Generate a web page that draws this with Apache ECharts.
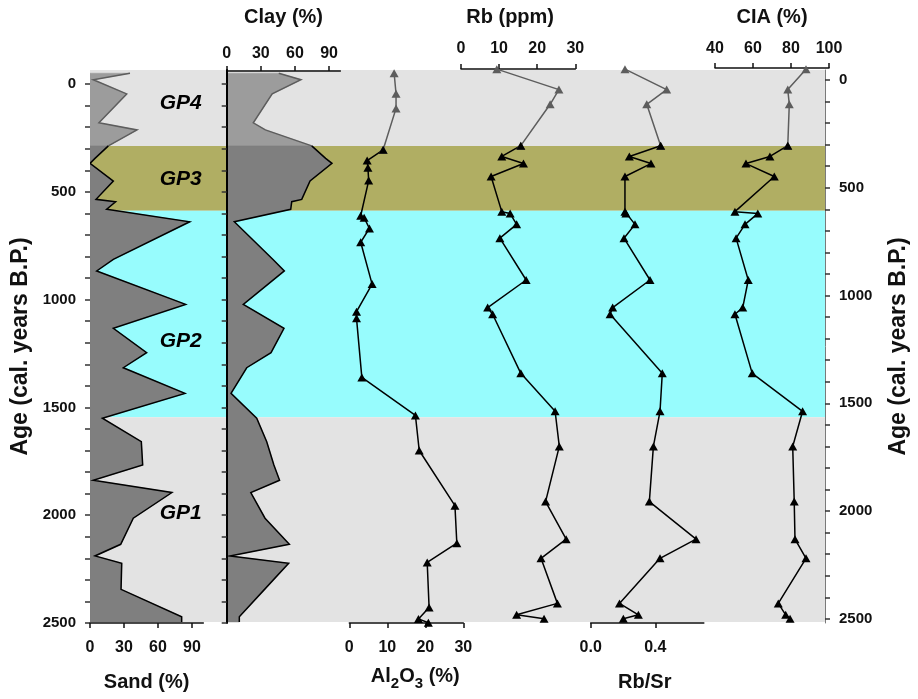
<!DOCTYPE html>
<html>
<head>
<meta charset="utf-8">
<script src="https://cdn.jsdelivr.net/npm/echarts@6/dist/echarts.min.js"></script>
<style>
  html, body { margin: 0; padding: 0; background: #ffffff; }
  #chart { width: 918px; height: 699px; }
</style>
</head>
<body>
<div id="chart"></div>
<script>
// ---- Grain-size profile (age in cal. years B.P.) ----
const textureAge = [-50, -20, 46, 180, 213, 287, 345, 368, 450, 535, 546, 581, 639, 813, 867, 1022,
  1133, 1246, 1316, 1435, 1550, 1659, 1767, 1838, 1895, 2014, 2135, 2189, 2223, 2344, 2471, 2495];
const sandPct = [35.3, 2.9, 32.4, 7.9, 41.5, 16.2, 4.4, 0, 20.6, 5.3, 22.6, 14.7, 88, 20.6, 5.9, 84.4,
  20.6, 50, 29.4, 83.8, 10.9, 45.3, 46.5, 2.9, 72.3, 38.2, 27.1, 4.4, 28, 27.4, 80.9, 80.9];
const clayPct = [45.8, 65.3, 40, 23.4, 34, 74.8, 87, 92.6, 73.3, 66, 57.2, 56.3, 6.7, 40.5, 50.7, 14.6,
  50.4, 39, 17.6, 3.8, 26.4, 35.2, 41.5, 46.5, 21.2, 33.7, 55.1, 2.9, 54.5, 33.3, 11.1, 11.1];

// ---- Geochemical samples ----
const sampleAge = [-50, 45, 113, 305, 355, 388, 448, 611, 620, 670, 734, 928, 1056, 1087, 1361, 1537,
  1700, 1956, 2130, 2219, 2428, 2481, 2499];
const al2o3Pct = [11.8, 12.3, 12.3, 8.9, 4.7, 4.9, 5.1, 3.0, 3.9, 5.3, 3.0, 6.0, 1.9, 1.9, 3.3, 17.4,
  18.4, 27.8, 28.3, 20.5, 21.0, 18.2, 20.8];
const rbPpm = [9.4, 25.7, 23.4, 15.7, 10.7, 16.4, 7.9, 10.7, 12.9, 14.6, 10.2, 17.1, 7.0, 8.3, 15.7, 24.7,
  25.8, 22.2, 27.6, 21.0, 25.3, 14.6, 21.8];
const rbSr = [0.212, 0.470, 0.347, 0.433, 0.239, 0.373, 0.212, 0.212, 0.218, 0.274, 0.206, 0.367, 0.136,
  0.120, 0.443, 0.429, 0.388, 0.363, 0.652, 0.429, 0.178, 0.295, 0.202];
const ciaPct = [87.9, 78.3, 79.1, 78.3, 68.9, 56.3, 71.2, 50.5, 62.5, 55.8, 51.1, 57.5, 54.6, 50.5, 59.6,
  86.1, 80.9, 81.7, 82.1, 87.9, 73.3, 77.2, 79.5];

// ---- Zones ----
const zoneEdges = [-65, 288, 588, 1546, 2495];
const zoneNames = ['GP4', 'GP3', 'GP2', 'GP1'];
const zoneLabelAge = [88, 441, 1195, 1990];

// ---- Tick values ----
const ageLabels = [0, 500, 1000, 1500, 2000, 2500];
const ageMinorTicks = [];
for (let a = 0; a <= 2500; a += 100) ageMinorTicks.push(a);
const pctTicks = [0, 30, 60, 90];
const thirtyTicks = [0, 10, 20, 30];
const ratioTicks = [0, 0.4];
const ciaTicks = [40, 60, 80, 100];

// index of the last GP4 sample in each record (lighter drawing above it)
const textureSplit = 5;
const sampleSplit = 3;

const FONT = '"Liberation Sans", Arial, Helvetica, sans-serif';
const INK = '#111111';
const zoneColors = ['#e3e3e3', '#b0ae63', '#97fcfd', '#e3e3e3'];

const tickLabelStyle = { fontFamily: FONT, fontSize: 16, fontWeight: 'bold', color: INK };
const titleStyle = { fontFamily: FONT, fontSize: 20, fontWeight: 'bold', color: INK };
const plainNumber = function (v) { return String(v); };

const PLOT_TOP = 70, PLOT_H = 553;
function grid(left, width) {
  return { left: left, width: width, top: PLOT_TOP, height: PLOT_H, containLabel: false };
}

function panelXAxis(gridIndex, min, max, position, ticks, name, extra) {
  return Object.assign({
    type: 'value', gridIndex: gridIndex, min: min, max: max, position: position,
    name: name, nameLocation: 'middle', nameTextStyle: titleStyle,
    axisLine: { show: true, onZero: false, lineStyle: { color: INK, width: 1.5 } },
    axisTick: { show: true, inside: false, length: 5, customValues: ticks, lineStyle: { color: INK, width: 1.5 } },
    axisLabel: Object.assign({ show: true, customValues: ticks }, tickLabelStyle),
    splitLine: { show: false },
    z: 5
  }, extra || {});
}

function hiddenYAxis(gridIndex, min, max) {
  return { type: 'value', gridIndex: gridIndex, min: min, max: max, inverse: true, show: false };
}

// left (texture, Al2O3) and right (Rb, Rb/Sr, CIA) age scales
const LEFT_MIN = -65, LEFT_MAX = 2500;
const RIGHT_MIN = -46, RIGHT_MAX = 2519;

const grids = [
  grid(90, 739),      // zone background
  grid(90, 113.3),    // sand
  grid(226.7, 113.7), // clay
  grid(349.3, 114),   // Al2O3
  grid(461, 114.3),   // Rb
  grid(590.7, 113.1), // Rb/Sr
  grid(715, 114)      // CIA
];

const xAxes = [
  { type: 'value', gridIndex: 0, min: 0, max: 1, show: false },
  panelXAxis(1, 0, 100, 'bottom', pctTicks, 'Sand (%)', {
    nameGap: 49, axisLabel: Object.assign({ customValues: pctTicks, margin: 17 }, tickLabelStyle)
  }),
  panelXAxis(2, 0, 100, 'top', pctTicks, 'Clay (%)', {
    offset: -1, nameGap: 44, axisLabel: Object.assign({ customValues: pctTicks, margin: 9 }, tickLabelStyle)
  }),
  panelXAxis(3, 0, 30, 'bottom', thirtyTicks, '{a|Al}{s|2}{a|O}{s|3}{a| (%)}', {
    nameGap: 43,
    nameTextStyle: {
      padding: [0, 0, 0, 18],
      rich: {
        a: { fontFamily: FONT, fontSize: 20, fontWeight: 'bold', color: INK, lineHeight: 22, verticalAlign: 'top' },
        s: { fontFamily: FONT, fontSize: 15, fontWeight: 'bold', color: INK, lineHeight: 15, padding: [10, 0, 0, 0], verticalAlign: 'top' }
      }
    },
    axisLabel: Object.assign({ customValues: thirtyTicks, margin: 17 }, tickLabelStyle)
  }),
  panelXAxis(4, 0, 30, 'top', thirtyTicks, 'Rb (ppm)', {
    offset: 1, nameGap: 42,
    nameTextStyle: Object.assign({ padding: [0, 16, 0, 0] }, titleStyle),
    axisLabel: Object.assign({ customValues: thirtyTicks, margin: 12 }, tickLabelStyle)
  }),
  panelXAxis(5, 0, 0.7, 'bottom', ratioTicks, 'Rb/Sr', {
    nameGap: 49,
    nameTextStyle: Object.assign({ padding: [0, 5, 0, 0] }, titleStyle),
    axisLabel: Object.assign({ customValues: ratioTicks, margin: 17, formatter: function (v) { return v.toFixed(1); } }, tickLabelStyle)
  }),
  panelXAxis(6, 40, 100, 'top', ciaTicks, 'CIA (%)', {
    offset: 2, nameGap: 41, axisLabel: Object.assign({ customValues: ciaTicks, margin: 11 }, tickLabelStyle)
  })
];

const ageTitleStyle = { fontFamily: FONT, fontSize: 23, fontWeight: 'bold', color: INK };

const yAxes = [
  {
    type: 'value', gridIndex: 0, min: LEFT_MIN, max: LEFT_MAX, inverse: true, position: 'left',
    name: 'Age (cal. years B.P.)', nameLocation: 'middle', nameGap: 58, nameTextStyle: ageTitleStyle,
    axisLine: { show: false },
    axisTick: { show: true, length: 5, customValues: ageMinorTicks, lineStyle: { color: '#333', width: 1.5 } },
    axisLabel: Object.assign({ customValues: ageLabels, margin: 14, formatter: plainNumber }, tickLabelStyle, { fontSize: 15 }),
    splitLine: { show: false }, z: 5
  },
  {
    type: 'value', gridIndex: 0, min: RIGHT_MIN, max: RIGHT_MAX, inverse: true, position: 'right',
    name: 'Age (cal. years B.P.)', nameLocation: 'middle', nameGap: 62, nameTextStyle: ageTitleStyle,
    axisLine: { show: true, onZero: false, lineStyle: { color: '#7a7a7a', width: 1 } },
    axisTick: { show: true, length: 5, customValues: ageMinorTicks, lineStyle: { color: '#333', width: 1.5 } },
    axisLabel: Object.assign({ customValues: ageLabels, margin: 14, formatter: plainNumber }, tickLabelStyle, { fontSize: 15 }),
    splitLine: { show: false }, z: 5
  },
  hiddenYAxis(1, LEFT_MIN, LEFT_MAX),
  {
    type: 'value', gridIndex: 2, min: LEFT_MIN, max: LEFT_MAX, inverse: true, position: 'left',
    axisLine: { show: true, onZero: false, lineStyle: { color: '#000', width: 2 } },
    axisTick: { show: true, length: 5, customValues: ageMinorTicks, lineStyle: { color: '#333', width: 1.5 } },
    axisLabel: { show: false }, splitLine: { show: false }, z: 6
  },
  hiddenYAxis(3, LEFT_MIN, LEFT_MAX),
  hiddenYAxis(4, RIGHT_MIN, RIGHT_MAX),
  hiddenYAxis(5, RIGHT_MIN, RIGHT_MAX),
  hiddenYAxis(6, RIGHT_MIN, RIGHT_MAX)
];

// filled depth profile, lighter in the uppermost zone
function profileRender(values, ages, splitIdx) {
  return function (params, api) {
    if (params.dataIndex !== 0) return null;
    const pts = values.map(function (v, i) { return api.coord([v, ages[i]]); });
    const x0 = api.coord([0, ages[0]])[0];
    const upper = pts.slice(0, splitIdx + 1);
    const lower = pts.slice(splitIdx);
    function closed(arr) {
      return [[x0, arr[0][1]]].concat(arr, [[x0, arr[arr.length - 1][1]]]);
    }
    return {
      type: 'group',
      children: [
        { type: 'polygon', shape: { points: closed(upper) }, style: { fill: '#9c9c9c', stroke: '#9c9c9c', lineWidth: 0.5 } },
        { type: 'polygon', shape: { points: closed(lower) }, style: { fill: '#7f7f7f', stroke: '#7f7f7f', lineWidth: 0.5 } },
        { type: 'polyline', shape: { points: upper }, style: { stroke: '#5d5d5d', lineWidth: 1.5, fill: 'none' } },
        { type: 'polyline', shape: { points: lower }, style: { stroke: '#000', lineWidth: 1.5, fill: 'none' } }
      ]
    };
  };
}

function profileSeries(axisIndex, yIndex, values) {
  return {
    type: 'custom', xAxisIndex: axisIndex, yAxisIndex: yIndex, z: 2, clip: true,
    data: values.map(function (v, i) { return [v, textureAge[i]]; }),
    encode: { x: 0, y: 1 },
    renderItem: profileRender(values, textureAge, textureSplit)
  };
}

function sampleSeries(axisIndex, yIndex, values) {
  const pts = values.map(function (v, i) { return [v, sampleAge[i]]; });
  const common = {
    type: 'line', xAxisIndex: axisIndex, yAxisIndex: yIndex, clip: false,
    symbol: 'triangle', symbolSize: [9, 8], showSymbol: true, z: 7
  };
  return [
    Object.assign({}, common, {
      data: pts.slice(0, sampleSplit + 1),
      itemStyle: { color: '#5d5d5d' },
      lineStyle: { color: '#5d5d5d', width: 1.5 }
    }),
    Object.assign({}, common, {
      data: pts.slice(sampleSplit),
      itemStyle: { color: '#000' },
      lineStyle: { color: '#000', width: 1.5 }
    })
  ];
}

const series = [
  {
    type: 'custom', xAxisIndex: 0, yAxisIndex: 0, z: 0, clip: false,
    data: zoneNames.map(function (n, i) { return [i, zoneEdges[i], zoneEdges[i + 1]]; }),
    encode: { x: 0, y: [1, 2] },
    renderItem: function (params, api) {
      const i = api.value(0);
      const cs = params.coordSys;
      const yTop = api.coord([0, api.value(1)])[1];
      const yBot = api.coord([0, api.value(2)])[1];
      return {
        type: 'rect',
        shape: { x: cs.x, y: yTop, width: cs.width, height: yBot - yTop },
        style: { fill: zoneColors[i] }
      };
    }
  },
  profileSeries(1, 2, sandPct),
  profileSeries(2, 3, clayPct),
  {
    type: 'scatter', xAxisIndex: 1, yAxisIndex: 2, z: 8, symbolSize: 0, clip: false,
    itemStyle: { opacity: 1 },
    data: zoneLabelAge.map(function (a) { return [80, a]; }),
    label: {
      show: true, position: 'inside', opacity: 1,
      formatter: function (p) { return zoneNames[p.dataIndex]; },
      fontFamily: FONT, fontSize: 21, fontWeight: 'bold', fontStyle: 'italic', color: '#000'
    }
  }
].concat(
  sampleSeries(3, 4, al2o3Pct),
  sampleSeries(4, 5, rbPpm),
  sampleSeries(5, 6, rbSr),
  sampleSeries(6, 7, ciaPct)
);

const chart = echarts.init(document.getElementById('chart'), null, { renderer: 'canvas' });
chart.setOption({
  animation: false,
  backgroundColor: '#ffffff',
  grid: grids,
  xAxis: xAxes,
  yAxis: yAxes,
  series: series
});
</script>
</body>
</html>
